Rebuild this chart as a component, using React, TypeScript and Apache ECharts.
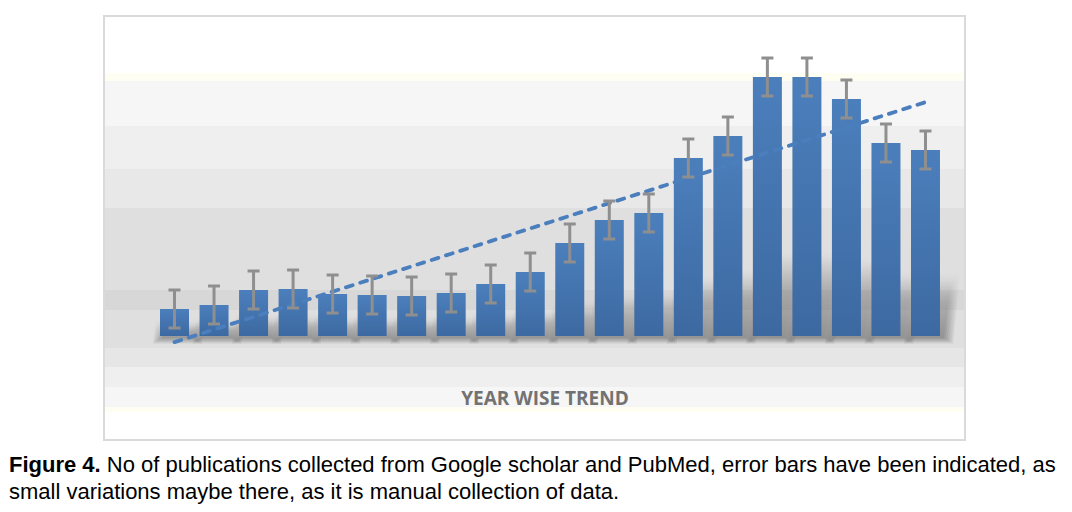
import React, { useEffect, useRef } from "react";
import * as echarts from "echarts";

const years = ["1", "2", "3", "4", "5", "6", "7", "8", "9", "10", "11", "12", "13", "14", "15", "16", "17", "18", "19", "20"];
const publications = [27, 31, 46, 47, 42, 41, 40, 43, 52, 64, 93, 116, 123, 178, 200, 259, 259, 237, 193, 186];
const errors = [19, 19, 19, 19, 19, 19, 19, 19, 19, 19, 19, 19, 19, 19, 19, 19, 19, 19, 19, 19];

const chartTitle = "YEAR WISE TREND";
const captionBold = "Figure 4.";
const captionLine1 = " No of publications collected from Google scholar and PubMed, error bars have been indicated, as";
const captionLine2 = "small variations maybe there, as it is manual collection of data.";

// background bands [top, bottom, colour]
const bands: [number, number, string][] = [
  [73, 81, "#fffef3"],
  [81, 126, "#f6f6f6"],
  [126, 169, "#efefef"],
  [169, 208, "#e8e8e8"],
  [208, 290, "#dfdfdf"],
  [290, 310, "#d7d7d7"],
  [310, 348, "#dfdfdf"],
  [348, 367, "#e6e6e6"],
  [367, 387, "#efefef"],
  [387, 407, "#f6f6f6"],
  [407, 412, "#fffef3"],
];

function linearTrend(vals: number[]): number[] {
  const n = vals.length;
  const xs = vals.map((_, i) => i + 1);
  const mx = xs.reduce((a, b) => a + b, 0) / n;
  const my = vals.reduce((a, b) => a + b, 0) / n;
  let sxy = 0;
  let sxx = 0;
  for (let i = 0; i < n; i++) {
    sxy += (xs[i] - mx) * (vals[i] - my);
    sxx += (xs[i] - mx) * (xs[i] - mx);
  }
  const slope = sxy / sxx;
  const icpt = my - slope * mx;
  return xs.map((x) => icpt + slope * x);
}

export default function App() {
  const ref = useRef<HTMLDivElement>(null);
  useEffect(() => {
    if (!ref.current) return;
    const chart = echarts.init(ref.current, null, { renderer: "svg" });
    const trend = linearTrend(publications);
    const bandEls = bands.map(([y0, y1, c]) => ({
      type: "rect",
      silent: true,
      z: -5,
      shape: { x: 105, y: y0, width: 859, height: y1 - y0 },
      style: { fill: c },
    }));
    chart.setOption({
      animation: false,
      backgroundColor: "#ffffff",
      grid: { left: 154.75, right: 126.75, top: 36, bottom: 176 },
      xAxis: {
        type: "category",
        data: years,
        show: false,
      },
      yAxis: {
        type: "value",
        min: 0,
        max: 300,
        show: false,
        splitLine: { show: false },
      },
      graphic: [
        {
          type: "rect",
          silent: true,
          z: -10,
          shape: { x: 104, y: 16, width: 861, height: 424 },
          style: { fill: "#ffffff", stroke: "#dadada", lineWidth: 2 },
        },
        ...bandEls,
        {
          type: "text",
          z: 10,
          x: 545,
          y: 398,
          style: {
            text: chartTitle,
            fill: "#727272",
            font: "bold 19px 'Open Sans'",
            textAlign: "center",
            textVerticalAlign: "middle",
          },
        },
        {
          type: "text",
          z: 10,
          x: 9,
          y: 451,
          style: {
            text: "{b|" + captionBold + "}{n|" + captionLine1 + "}\n{n|" + captionLine2 + "}",
            fill: "#000000",
            rich: {
              b: { fontFamily: "Liberation Sans", fontWeight: "bold", fontSize: 22, lineHeight: 27, fill: "#000" },
              n: { fontFamily: "Liberation Sans", fontSize: 22, lineHeight: 27, fill: "#000" },
            },
          },
        },
      ],
      series: [
        {
          type: "custom",
          z: 1,
          silent: true,
          data: publications.map((v, i) => [i, v]),
          renderItem: (params: any, api: any) => {
            const i = api.value(0);
            const v = api.value(1);
            const base = api.coord([i, 0]);
            const top = api.coord([i, v]);
            const h = base[1] - top[1];
            const half = 14.5;
            const rise = h * 0.3;
            const dx = 4 + h * 0.04;
            const layers = [];
            for (let k = 0; k < 6; k++) {
              const g = 9 - k * 1.8;
              const pts = [
                [base[0] - half + 2 - g, base[1] + 2 + g * 0.6],
                [base[0] + half + 4 + g, base[1] + 2 + g * 0.6],
                [base[0] + half + dx + g, base[1] - rise - g],
                [base[0] - half + dx - g, base[1] - rise - g],
              ];
              layers.push({
                type: "polygon",
                shape: { points: pts },
                style: {
                  fill: new echarts.graphic.LinearGradient(0, 1, 0, 0, [
                    { offset: 0, color: "rgba(0,0,0,0.07)" },
                    { offset: 0.6, color: "rgba(0,0,0,0.04)" },
                    { offset: 1, color: "rgba(0,0,0,0.0)" },
                  ]),
                },
              });
            }
            return { type: "group", children: layers };
          },
        },
        {
          type: "bar",
          data: publications,
          barWidth: 29,
          z: 2,
          itemStyle: {
            color: new echarts.graphic.LinearGradient(0, 0, 0, 1, [
              { offset: 0, color: "#4b7fbc" },
              { offset: 1, color: "#3d69a1" },
            ]),
          },
        },
        {
          type: "line",
          data: trend,
          symbol: "none",
          clip: false,
          z: 4,
          lineStyle: { color: "#4a7ebd", width: 3.8, type: [7, 8], cap: "round" },
        },
        {
          type: "custom",
          z: 5,
          data: publications.map((v, i) => [i, v, errors[i]]),
          renderItem: (params: any, api: any) => {
            const i = api.value(0);
            const v = api.value(1);
            const e = api.value(2);
            const top = api.coord([i, v + e]);
            const bot = api.coord([i, v - e]);
            const style = { stroke: "#8f8f8f", lineWidth: 3 };
            return {
              type: "group",
              children: [
                { type: "line", shape: { x1: top[0], y1: top[1], x2: bot[0], y2: bot[1] }, style },
                { type: "line", shape: { x1: top[0] - 6, y1: top[1], x2: top[0] + 6, y2: top[1] }, style },
                { type: "line", shape: { x1: bot[0] - 6, y1: bot[1], x2: bot[0] + 6, y2: bot[1] }, style },
              ],
            };
          },
        },
      ],
    });
    return () => chart.dispose();
  }, []);
  return <div ref={ref} style={{ position: "absolute", left: 0, top: 0, width: 1072, height: 512 }} />;
}
